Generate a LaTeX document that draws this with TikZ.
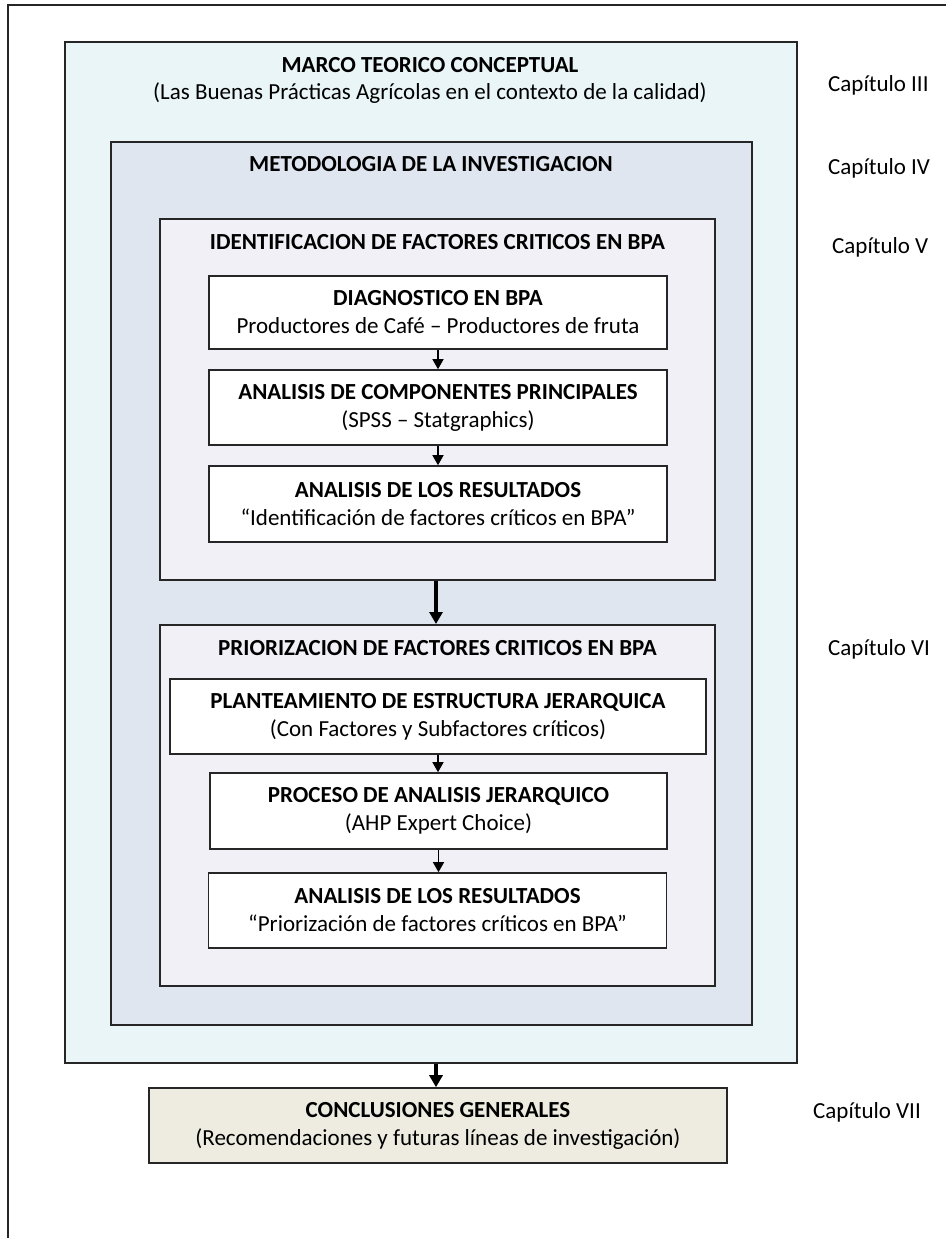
\documentclass[tikz,border=0pt]{standalone}
\usepackage{fontspec}
\setmainfont{Carlito}
\usetikzlibrary{arrows.meta}
\definecolor{cyanfill}{HTML}{EAF5F8}
\definecolor{bluefill}{HTML}{DFE6F0}
\definecolor{lavfill}{HTML}{F1F0F6}
\definecolor{tanfill}{HTML}{EEECE1}
\definecolor{edge}{HTML}{262626}
\tikzset{
 container/.style={draw=edge, line width=1.6pt, inner sep=0pt, anchor=north west},
 stepbox/.style={draw=edge, line width=1.6pt, fill=white, align=center, inner sep=0pt, font=\fontsize{23}{28}\selectfont},
 ttl/.style={font=\fontsize{23}{28}\selectfont\bfseries, align=center, inner sep=0pt},
 chap/.style={font=\fontsize{23}{28}\selectfont, anchor=west, inner sep=0pt},
 thinarr/.style={line width=1.4pt, draw=black, -{Triangle[width=11pt,length=10pt]}},
 thickarr/.style={line width=4pt, draw=black, -{Triangle[width=13pt,length=12pt]}},
 frameline/.style={line width=1.5pt, draw=edge},
}
\begin{document}
\begin{tikzpicture}[x=1pt,y=-1pt]
\useasboundingbox (0,0) rectangle (945,1238);
% outer frame
\coordinate (ftr) at (947,5);
\coordinate (ftl) at (8,5);
\coordinate (fbl) at (8,1240);
\draw[frameline] (ftr) -- (ftl) -- (fbl);

% containers
\node[container, fill=cyanfill, minimum width=732pt, minimum height=1021pt] (marco) at (64,41) {};
\node[container, fill=bluefill, minimum width=641pt, minimum height=883pt] (metod) at (110,141) {};
\node[container, fill=lavfill, minimum width=555pt, minimum height=361pt] (ident) at (159,218) {};
\node[container, fill=lavfill, minimum width=555pt, minimum height=361pt] (prior) at (159,624) {};

% titles
\node[ttl] (marcot) at (430,65) {MARCO TEORICO CONCEPTUAL};
\node[font=\fontsize{23}{28}\selectfont, inner sep=0pt] (marcos) at (430,93) {(Las Buenas Prácticas Agrícolas en el contexto de la calidad)};
\node[ttl] (metodt) at (431,164) {METODOLOGIA DE LA INVESTIGACION};
\node[ttl] (identt) at (437.5,242) {IDENTIFICACION DE FACTORES CRITICOS EN BPA};
\node[ttl] (priort) at (437.5,648) {PRIORIZACION DE FACTORES CRITICOS EN BPA};

% step boxes
\node[stepbox, minimum width=458pt, minimum height=73pt] (diag) at (438,312.5)
  {\textbf{DIAGNOSTICO EN BPA}\\Productores de Café – Productores de fruta};
\node[stepbox, minimum width=458pt, minimum height=75pt] (acp) at (438,407.5)
  {\textbf{ANALISIS DE COMPONENTES PRINCIPALES}\\(SPSS – Statgraphics)};
\node[stepbox, minimum width=458pt, minimum height=76pt] (res1) at (438,504)
  {\textbf{ANALISIS DE LOS RESULTADOS}\\“Identificación de factores críticos en BPA”};
\node[stepbox, minimum width=536pt, minimum height=75pt] (plan) at (438,716.5)
  {\textbf{PLANTEAMIENTO DE ESTRUCTURA JERARQUICA}\\(Con Factores y Subfactores críticos)};
\node[stepbox, minimum width=457pt, minimum height=76pt] (proc) at (438.5,811)
  {\textbf{PROCESO DE ANALISIS JERARQUICO}\\(AHP Expert Choice)};
\node[stepbox, minimum width=458pt, minimum height=75pt] (res2) at (437.5,910.5)
  {\textbf{ANALISIS DE LOS RESULTADOS}\\“Priorización de factores críticos en BPA”};
\node[stepbox, fill=tanfill, minimum width=578pt, minimum height=75pt] (concl) at (438,1125.5)
  {\textbf{CONCLUSIONES GENERALES}\\(Recomendaciones y futuras líneas de investigación)};

% chapter labels
\node[chap] (c3) at (828,85) {Capítulo III};
\node[chap] (c4) at (828,168) {Capítulo IV};
\node[chap] (c5) at (832,247) {Capítulo V};
\node[chap] (c6) at (828,649) {Capítulo VI};
\node[chap] (c7) at (813,1112) {Capítulo VII};

% connectors
\draw[thinarr] (diag.south) -- (diag.south |- acp.north);
\draw[thinarr] (acp.south) -- (acp.south |- res1.north);
\draw[thinarr] (plan.south) -- (plan.south |- proc.north);
\draw[thinarr] (proc.south) -- (proc.south |- res2.north);
\coordinate (a1) at (436,0);
\draw[thickarr] (a1 |- ident.south) -- (a1 |- prior.north);
\draw[thickarr] (a1 |- marco.south) -- (a1 |- concl.north);
\end{tikzpicture}
\end{document}
